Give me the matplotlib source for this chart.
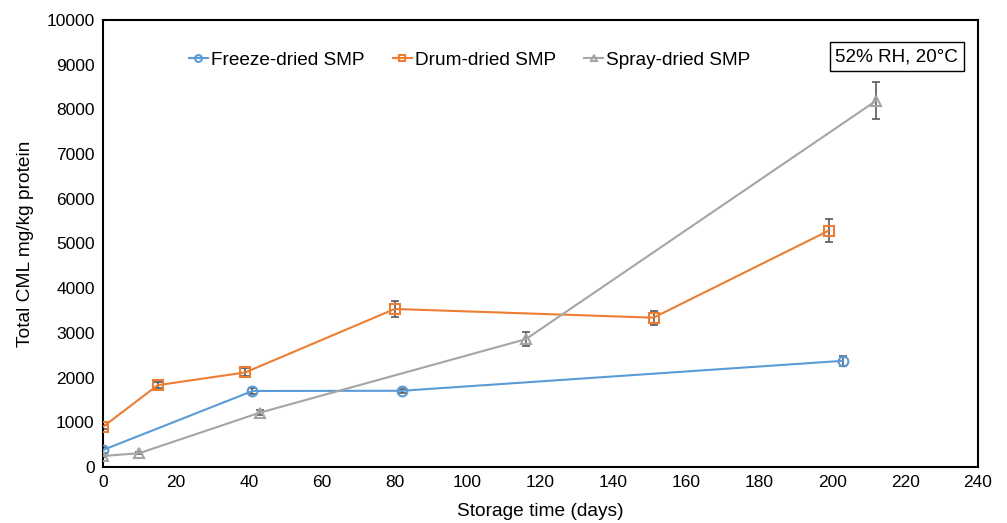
import matplotlib
matplotlib.use('Agg')
import matplotlib.pyplot as plt

plt.rcParams['font.family'] = ['Liberation Sans', 'DejaVu Sans']

# Freeze-dried SMP
freeze_days = [0, 41, 82, 203]
freeze_cml = [380, 1700, 1705, 2375]
freeze_err = [60, 70, 50, 115]

# Drum-dried SMP
drum_days = [0, 15, 39, 80, 151, 199]
drum_cml = [900, 1830, 2115, 3535, 3340, 5285]
drum_err = [40, 70, 90, 175, 160, 260]

# Spray-dried SMP
spray_days = [0, 10, 43, 116, 212]
spray_cml = [245, 310, 1215, 2860, 8190]
spray_err = [30, 30, 60, 150, 415]

fig = plt.figure(figsize=(10.07, 5.23), dpi=100)
ax = fig.add_axes([0.1023, 0.1071, 0.8689, 0.8547])

err_color = '#595959'
series = [
    (freeze_days, freeze_cml, freeze_err, '#5B9BD5', 'o', 'Freeze-dried SMP'),
    (drum_days, drum_cml, drum_err, '#ED7D31', 's', 'Drum-dried SMP'),
    (spray_days, spray_cml, spray_err, '#A5A5A5', '^', 'Spray-dried SMP'),
]
handles = []
for days, cml, err, color, marker, label in series:
    ax.errorbar(days, cml, yerr=err, fmt='none', ecolor=err_color,
                elinewidth=1.2, capsize=3, capthick=1.2, zorder=2)
    line, = ax.plot(days, cml, color=color, lw=1.5, marker=marker,
                    markersize=7, markerfacecolor='none',
                    markeredgecolor=color, markeredgewidth=1.5,
                    label=label, zorder=3)
    handles.append(line)

ax.set_xlim(0, 240)
ax.set_ylim(0, 10000)
ax.set_xticks(range(0, 241, 20))
ax.set_yticks(range(0, 10001, 1000))
ax.tick_params(length=0, labelsize=12.5, pad=6)
for s in ax.spines.values():
    s.set_linewidth(1.5)
    s.set_color('black')

ax.set_xlabel('Storage time (days)', fontsize=13.8, labelpad=9)
ax.set_ylabel('Total CML mg/kg protein', fontsize=13.8, labelpad=9)

ax.legend(handles=handles, loc='center', bbox_to_anchor=(0.419, 0.91),
          ncol=3, frameon=False, fontsize=13.7, handlelength=1.0,
          handletextpad=0.15, columnspacing=1.5, markerscale=0.7)

ax.text(0.907, 0.918, '52% RH, 20°C', transform=ax.transAxes,
        ha='center', va='center', fontsize=13.6,
        bbox=dict(boxstyle='square,pad=0.3', facecolor='white',
                  edgecolor='black', linewidth=1.0))

fig.savefig('out.png', dpi=100)
